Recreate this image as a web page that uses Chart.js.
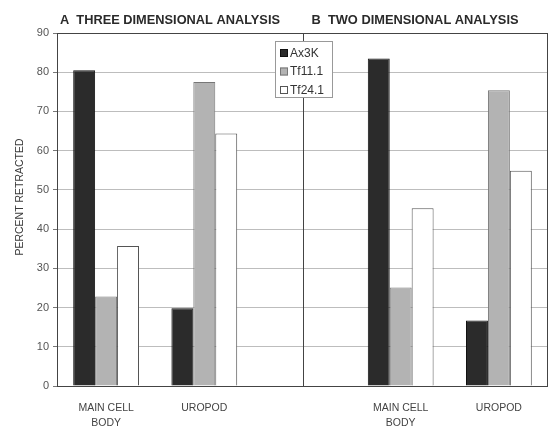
<!DOCTYPE html>
<html lang="en">
<head>
  <meta charset="UTF-8" />
  <title>Percent Retracted</title>
  <script src="https://cdn.jsdelivr.net/npm/chart.js"></script>
  <style>
    html, body { margin: 0; padding: 0; background: #fff; }
    #wrap { width: 549px; height: 429px; }
  </style>
</head>
<body>
  <div id="wrap"><canvas id="retractChart" width="549" height="429"></canvas></div>

<script>
  // values (percent retracted)
  const categories = [["MAIN CELL", "BODY"], "UROPOD", "", ["MAIN CELL", "BODY"], "UROPOD"];
  const seriesNames = ["Ax3K", "Tf11.1", "Tf24.1"];
  const ax3k = [80.5, 19.8, null, 83.5, 16.7];
  const tf11 = [22.8, 77.5, null, 25.1, 75.4];
  const tf24 = [35.7, 64.4, null, 45.3, 54.9];
  const panelTitles = ["A  THREE DIMENSIONAL ANALYSIS", "B  TWO DIMENSIONAL ANALYSIS"];
  const yTitle = "PERCENT RETRACTED";
  const yMax = 90;
  const yStep = 10;

  const decor = {
    id: "decor",
    beforeDraw(chart) {
      const ctx = chart.ctx;
      ctx.save();
      ctx.fillStyle = "#fff";
      ctx.fillRect(0, 0, chart.width, chart.height);
      ctx.restore();
    },
    afterDraw(chart) {
      const ctx = chart.ctx;
      const a = chart.chartArea;
      const x = chart.scales.x;
      const mid = x.getPixelForValue(2);

      ctx.save();
      // frame + panel divider
      ctx.strokeStyle = "#444";
      ctx.lineWidth = 1;
      ctx.strokeRect(a.left + 0.5, a.top + 0.5, a.right - a.left - 1, a.bottom - a.top);
      ctx.beginPath();
      ctx.moveTo(Math.round(mid) + 0.5, a.top);
      ctx.lineTo(Math.round(mid) + 0.5, a.bottom);
      ctx.stroke();

      // panel titles
      ctx.fillStyle = "#2a2a2a";
      ctx.font = "bold 13px 'Liberation Sans', Arial, sans-serif";
      ctx.textBaseline = "alphabetic";
      ctx.textAlign = "left";
      ctx.fillText(panelTitles[0], a.left + 3, 24, 220);
      ctx.fillText(panelTitles[1], mid + 9, 24, 207);

      // y axis title
      ctx.save();
      ctx.translate(20, 197);
      ctx.rotate(-Math.PI / 2);
      ctx.textAlign = "center";
      ctx.textBaseline = "middle";
      ctx.fillStyle = "#3a3a3a";
      ctx.font = "11px 'Liberation Sans', Arial, sans-serif";
      ctx.fillText(yTitle, 0, 0, 117);
      ctx.restore();

      // legend box sitting on the divider
      const bx = 275, by = 41, bw = 57, bh = 56;
      ctx.fillStyle = "#fff";
      ctx.fillRect(bx, by, bw, bh);
      ctx.strokeStyle = "#999";
      ctx.strokeRect(bx + 0.5, by + 0.5, bw, bh);
      ctx.font = "12px 'Liberation Sans', Arial, sans-serif";
      ctx.textBaseline = "middle";
      chart.data.datasets.forEach((ds, i) => {
        const cy = by + 12 + i * 18.5;
        ctx.fillStyle = ds.backgroundColor;
        ctx.fillRect(bx + 5, cy - 4, 8, 8);
        ctx.strokeStyle = ds.borderColor;
        ctx.strokeRect(bx + 5.5, cy - 3.5, 7, 7);
        ctx.fillStyle = "#333";
        ctx.fillText(ds.label, bx + 15, cy + 0.5);
      });
      ctx.restore();
    }
  };

  new Chart(document.getElementById("retractChart"), {
    type: "bar",
    data: {
      labels: categories,
      datasets: [
        { label: seriesNames[0], data: ax3k, backgroundColor: "#2b2b2b", borderColor: "#111", borderWidth: 1 },
        { label: seriesNames[1], data: tf11, backgroundColor: "#b3b3b3", borderColor: "#777", borderWidth: 1 },
        { label: seriesNames[2], data: tf24, backgroundColor: "#ffffff", borderColor: "#555", borderWidth: 1 }
      ]
    },
    options: {
      responsive: false,
      animation: false,
      layout: { padding: { top: 33, right: 1, left: 0, bottom: 0 } },
      datasets: { bar: { barPercentage: 1, categoryPercentage: 0.67 } },
      plugins: { legend: { display: false }, tooltip: { enabled: false } },
      scales: {
        x: {
          grid: { display: false, drawTicks: false },
          border: { display: false },
          ticks: {
            color: "#444",
            padding: 14,
            maxRotation: 0,
            autoSkip: false,
            font: { family: "'Liberation Sans', Arial, sans-serif", size: 10.5, lineHeight: 1.45 }
          },
          afterFit(s) { s.height = 43; }
        },
        y: {
          min: 0,
          max: yMax,
          ticks: {
            stepSize: yStep,
            color: "#555",
            padding: 4,
            font: { family: "'Liberation Sans', Arial, sans-serif", size: 11 }
          },
          grid: { color: "#bdbdbd", tickLength: 4, tickColor: "#777" },
          border: { display: false },
          afterFit(s) { s.width = 57; }
        }
      }
    },
    plugins: [decor]
  });
</script>
</body>
</html>
